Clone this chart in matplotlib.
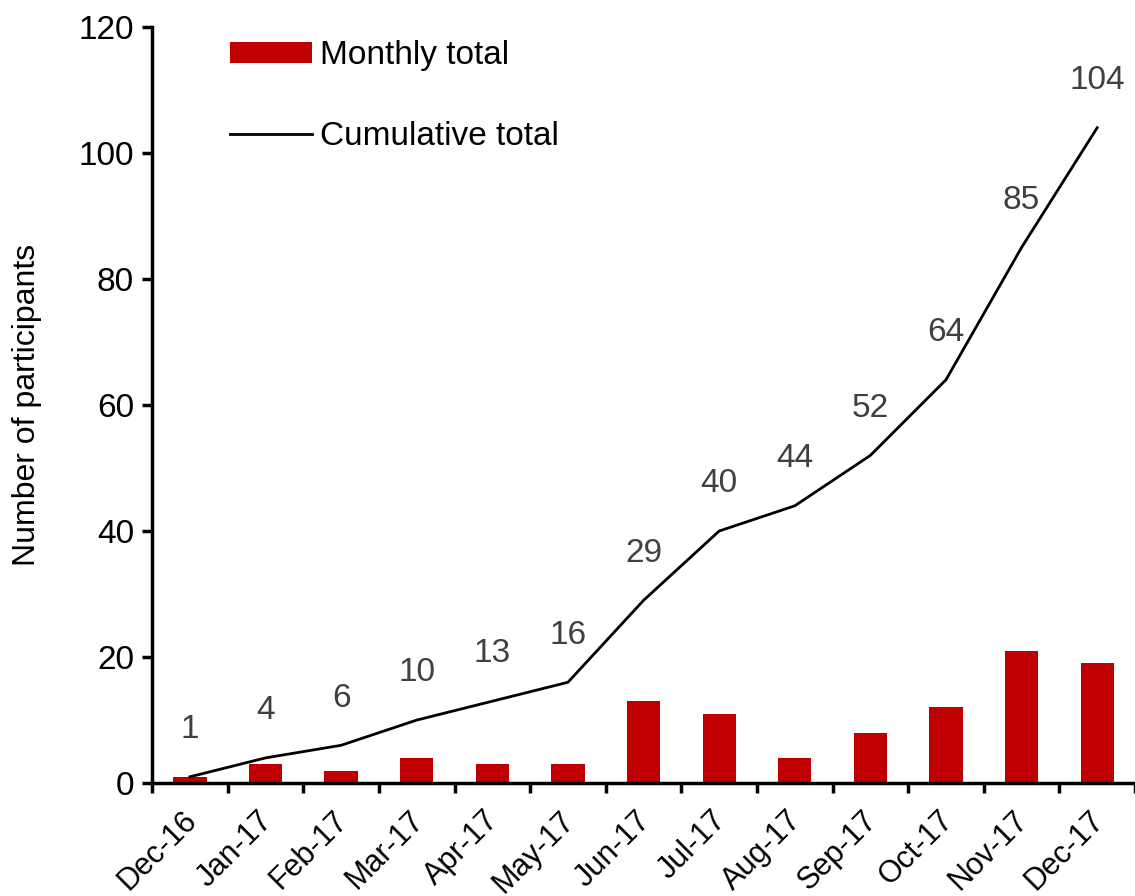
import matplotlib
matplotlib.use("Agg")
import matplotlib.pyplot as plt
import matplotlib.transforms as mtransforms
import numpy as np

months = ["Dec-16", "Jan-17", "Feb-17", "Mar-17", "Apr-17", "May-17", "Jun-17",
          "Jul-17", "Aug-17", "Sep-17", "Oct-17", "Nov-17", "Dec-17"]
monthly = [1, 3, 2, 4, 3, 3, 13, 11, 4, 8, 12, 21, 19]
cumulative = [1, 4, 6, 10, 13, 16, 29, 40, 44, 52, 64, 85, 104]

plt.rcParams['font.family'] = ['Liberation Sans', 'DejaVu Sans']

fig = plt.figure(figsize=(11.35, 8.96), dpi=100)
ax = fig.add_axes([0.134, 0.126, 0.866, 0.844])

x = np.arange(len(months))
bars = ax.bar(x, monthly, width=0.44, color="#C00000", label="Monthly total", zorder=2)
line, = ax.plot(x, cumulative, color="black", lw=2.0, label="Cumulative total", zorder=3)

for xi, v in zip(x, cumulative):
    ax.annotate(str(v), (xi, v), xytext=(0, 34), textcoords="offset points",
                ha="center", va="center", fontsize=24, color="#404040")

ax.set_xlim(-0.5, len(months) - 0.5)
ax.set_ylim(0, 120)
ax.set_yticks(range(0, 121, 20))
ax.set_xticks(x)
ax.set_xticklabels(months, rotation=45, ha="right", rotation_mode="anchor")
ax.set_xticks(np.arange(-0.5, len(months), 1), minor=True)
ax.tick_params(axis="x", which="major", length=0, labelsize=22, pad=16)
ax.tick_params(axis="x", which="minor", length=7, width=2.5, direction="out")
ax.tick_params(axis="y", length=7, width=2.5, direction="out", labelsize=24, pad=6)

# nudge the rotated month labels left so they end under the bar centres
shift = mtransforms.ScaledTranslation(-6 / 72, 0, fig.dpi_scale_trans)
for lbl in ax.get_xticklabels():
    lbl.set_transform(lbl.get_transform() + shift)

for s in ["top", "right"]:
    ax.spines[s].set_visible(False)
for s in ["left", "bottom"]:
    ax.spines[s].set_linewidth(2.5)

ax.set_ylabel("Number of participants", fontsize=23, labelpad=26)

ax.legend([bars, line], ["Monthly total", "Cumulative total"],
          loc="upper left", bbox_to_anchor=(0.203, 0.955), bbox_transform=fig.transFigure,
          frameon=False, fontsize=24, handlelength=2.46, handleheight=0.6,
          handletextpad=0.24, labelspacing=1.49, borderpad=0, borderaxespad=0)

fig.savefig("out.png", dpi=100)
